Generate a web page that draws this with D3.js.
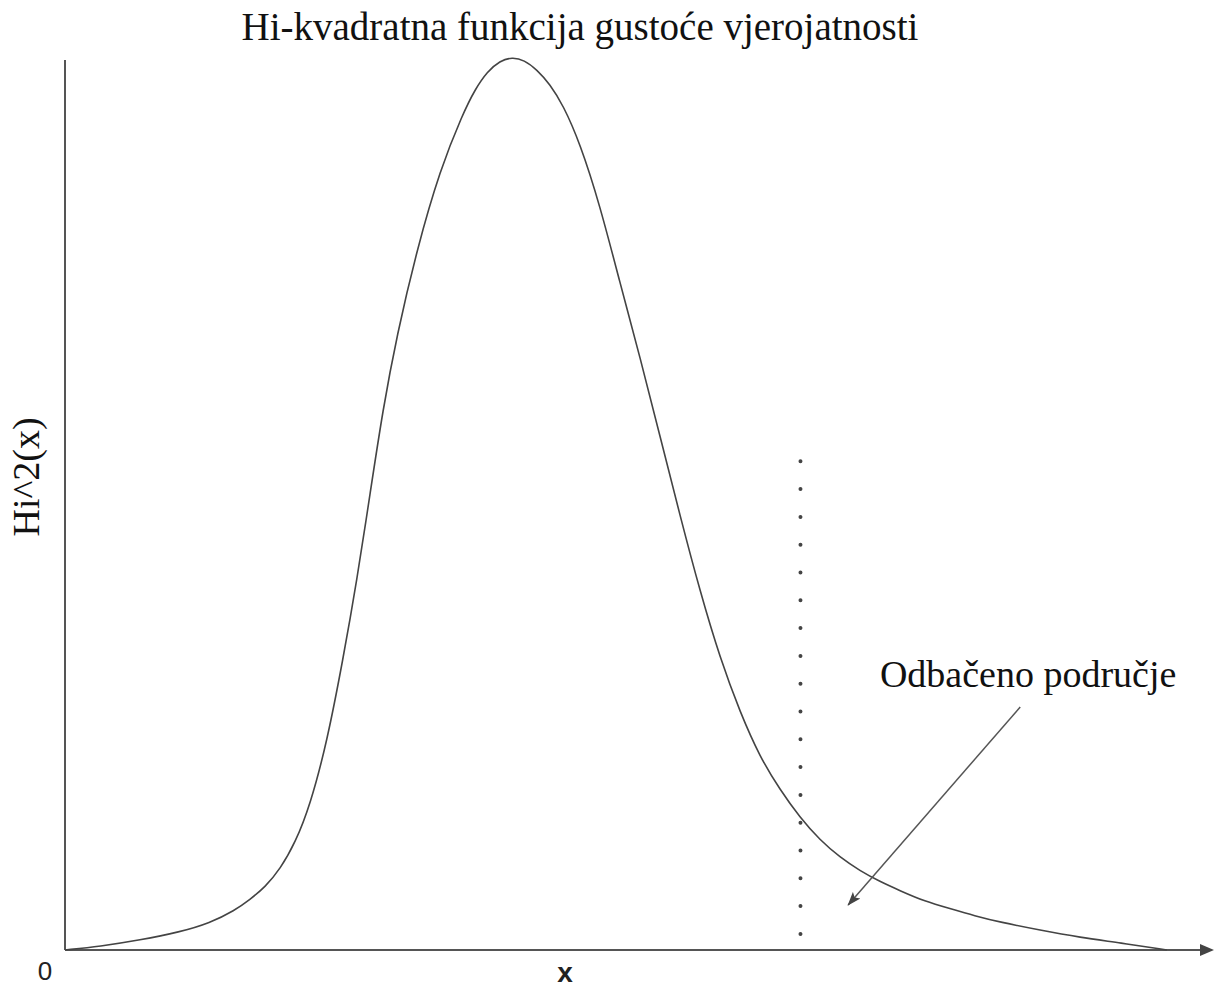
<!DOCTYPE html>
<html>
<head>
<meta charset="utf-8">
<script src="https://cdn.jsdelivr.net/npm/d3@7"></script>
<style>
  body { margin: 0; background: #fff; }
</style>
</head>
<body>
<div class="chart"></div>
<script>
// chart values
const title = "Hi-kvadratna funkcija gustoće vjerojatnosti";
const yLabel = "Hi^2(x)";
const xLabel = "x";
const originLabel = "0";
const noteLabel = "Odbačeno područje";

// density curve (x in arbitrary units, y relative to peak)
const curveX = [0.00, 0.77, 1.65, 2.53, 3.19, 3.74, 4.07, 4.41, 4.74, 5.07, 5.40, 5.77, 6.12, 6.43, 6.72, 7.00, 7.31, 7.75, 8.26, 8.77,
                9.03, 9.30, 9.58, 9.85, 10.11, 10.40, 10.68, 10.97, 11.34, 11.78, 12.22, 12.67, 13.11, 13.55, 13.99, 14.43,
                14.87, 15.31, 15.75, 16.19, 16.63, 17.07, 17.51, 17.95, 18.39, 18.94, 19.49, 20.04, 20.59, 21.48, 22.36, 23.24, 24.27];
const curveY = [0.000, 0.004, 0.011, 0.020, 0.030, 0.044, 0.056, 0.070, 0.090, 0.119, 0.161, 0.231, 0.322, 0.411, 0.507, 0.600, 0.683, 0.778, 0.867, 0.930,
                0.956, 0.976, 0.988, 0.992, 0.989, 0.978, 0.962, 0.939, 0.897, 0.828, 0.742, 0.658, 0.570, 0.482, 0.398, 0.324,
                0.264, 0.214, 0.178, 0.147, 0.122, 0.103, 0.088, 0.076, 0.066, 0.054, 0.046, 0.038, 0.031, 0.022, 0.014, 0.008, 0.000];

const xDomain = [0, 25];
const yDomain = [0, 1];
const yAxisTop = 0.989;

// critical value (dotted line) and the arrow of the note
const critX = [16.2];
const critY = [0.017, 0.543];
const noteArrowX = [21.04, 17.25];
const noteArrowY = [0.27, 0.05];
const notePos = [17.95, 0.292];

const W = 1217, H = 989;

const svg = d3.select(".chart").append("svg")
    .attr("width", W).attr("height", H);

const x = d3.scaleLinear().domain(xDomain).range([65, 1200]);
const y = d3.scaleLinear().domain(yDomain).range([950, 50]);

const defs = svg.append("defs");
defs.append("marker").attr("id", "axisArrow")
    .attr("viewBox", "0 -7 16 14").attr("refX", 0).attr("refY", 0)
    .attr("markerWidth", 16).attr("markerHeight", 14).attr("markerUnits", "userSpaceOnUse")
    .attr("orient", "auto")
  .append("path").attr("d", "M0,-6L14,0L0,6Z").attr("fill", "#444");
defs.append("marker").attr("id", "noteArrow")
    .attr("viewBox", "0 -6 14 12").attr("refX", 13).attr("refY", 0)
    .attr("markerWidth", 14).attr("markerHeight", 12).attr("markerUnits", "userSpaceOnUse")
    .attr("orient", "auto")
  .append("path").attr("d", "M0,-5L14,0L0,5L3,0Z").attr("fill", "#444");

// axes
svg.append("line")
    .attr("x1", x(0)).attr("y1", y(0)).attr("x2", x(0)).attr("y2", y(yAxisTop))
    .attr("stroke", "#555").attr("stroke-width", 2);
svg.append("line")
    .attr("x1", x(0)).attr("y1", y(0)).attr("x2", x(xDomain[1])).attr("y2", y(0))
    .attr("stroke", "#555").attr("stroke-width", 2)
    .attr("marker-end", "url(#axisArrow)");

// curve
const pts = curveX.map((d, i) => [d, curveY[i]]);
const line = d3.line().x(d => x(d[0])).y(d => y(d[1])).curve(d3.curveBasis);
svg.append("path").datum(pts)
    .attr("d", line)
    .attr("fill", "none").attr("stroke", "#444").attr("stroke-width", 1.6);

// dotted critical line
svg.append("line")
    .attr("x1", x(critX[0])).attr("x2", x(critX[0]))
    .attr("y1", y(critY[1])).attr("y2", y(critY[0]))
    .attr("stroke", "#444").attr("stroke-width", 4)
    .attr("stroke-linecap", "round").attr("stroke-dasharray", "0 27.8");

// note + arrow
svg.append("line")
    .attr("x1", x(noteArrowX[0])).attr("y1", y(noteArrowY[0]))
    .attr("x2", x(noteArrowX[1])).attr("y2", y(noteArrowY[1]))
    .attr("stroke", "#555").attr("stroke-width", 1.5)
    .attr("marker-end", "url(#noteArrow)");

const serif = "'Liberation Serif', 'Times New Roman', serif";
svg.append("text")
    .attr("x", x(notePos[0])).attr("y", y(notePos[1]))
    .style("font-family", serif).style("font-size", "38px").attr("fill", "#111")
    .text(noteLabel);

// title
svg.append("text")
    .attr("x", 580).attr("y", 40).attr("text-anchor", "middle")
    .style("font-family", serif).style("font-size", "39px").attr("fill", "#111")
    .text(title);

// y label
svg.append("text")
    .attr("transform", "translate(39,477) rotate(-90)")
    .attr("text-anchor", "middle")
    .style("font-family", serif).style("font-size", "38px").attr("fill", "#111")
    .text(yLabel);

// origin and x label
svg.append("text")
    .attr("x", 45).attr("y", 980).attr("text-anchor", "middle")
    .style("font-family", "'Liberation Sans', Arial, sans-serif").style("font-size", "26px").attr("fill", "#222")
    .text(originLabel);
svg.append("text")
    .attr("x", 565).attr("y", 982).attr("text-anchor", "middle")
    .style("font-family", "'Liberation Sans', Arial, sans-serif").style("font-size", "28px")
    .style("font-weight", "bold").attr("fill", "#222")
    .text(xLabel);
</script>
</body>
</html>
